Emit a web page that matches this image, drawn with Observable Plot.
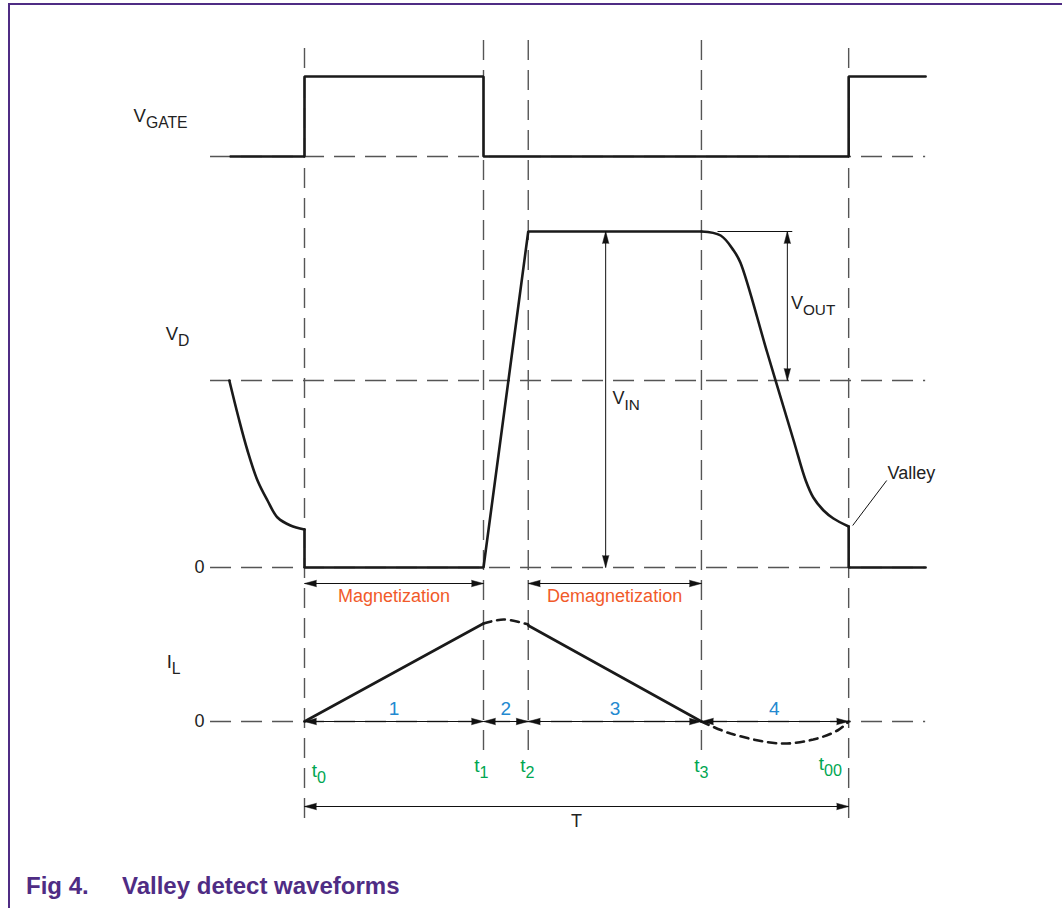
<!DOCTYPE html>
<html><head><meta charset="utf-8">
<script src="https://cdn.jsdelivr.net/npm/d3@7"></script>
<script src="https://cdn.jsdelivr.net/npm/@observablehq/plot@0.6"></script>
<style>
body{margin:0;background:#fff;font-family:"Liberation Sans",Arial,sans-serif;}
#frame{position:absolute;left:8px;top:3px;width:1060px;height:910px;border-left:2px solid #4f2c84;border-top:2px solid #4f2c84;box-sizing:border-box;}
#chart{position:absolute;left:0;top:0;}
.cap{position:absolute;top:872px;font-weight:bold;color:#4f2c84;font-size:24px;white-space:nowrap;}
</style></head><body>
<div id="frame"></div>
<div id="chart"></div>
<div class="cap" style="left:26px">Fig 4.</div>
<div class="cap" style="left:122px">Valley detect waveforms</div>
<script>
// ---- time instants (diagram time units) ----
const tickNames = ["t_0", "t_1", "t_2", "t_3", "t_00"];
const tickTimes = [0, 4, 5, 8.87, 12.16];
const tickBottoms = [-9.7, -2.9, -2.9, -2.9, -9.7];
const tickTop = 68.3;

// ---- reference levels (diagram level units) ----
const refLevels = [56.5, 34.1, 15.4, 0];   // gate low, Vout ref, Vd zero, IL zero
const refStart = -2.1, refEnd = 13.88;

// ---- V_GATE ----
const gateX = [-1.65, 0, 0, 4, 4, 12.16, 12.16, 13.88];
const gateY = [56.5, 56.5, 64.5, 64.5, 56.5, 56.5, 64.5, 64.5];

// ---- V_D ----
const vdDecayX = [-1.68, -1.475, -1.274, -1.05, -0.827, -0.603, -0.313, 0];
const vdDecayY = [34.1, 30.4, 27.1, 24.1, 22.1, 20.4, 19.6, 19.2];
const vdMainX = [0, 0, 4, 5, 8.87];
const vdMainY = [19.2, 15.4, 15.4, 49.0, 49.0];
const vdFallX = [8.87, 9.30, 9.59, 9.74, 10.34, 10.93, 11.20, 11.37, 11.60, 11.82, 12.16];
const vdFallY = [49.0, 48.6, 47.1, 45.9, 36.9, 28.1, 24.1, 22.4, 21.1, 20.3, 19.5];
const vdEndX = [12.16, 12.16, 13.88];
const vdEndY = [19.5, 15.4, 15.4];

// ---- I_L ----
const ilRiseX = [0, 4], ilRiseY = [0, 9.8];
const ilBridgeX = [4, 4.45, 5], ilBridgeY = [9.8, 10.2, 9.7];
const ilFallX = [5, 8.87], ilFallY = [9.6, 0];
const ilDipX = [8.87, 9.52, 10.64, 11.37, 11.91, 12.16];
const ilDipY = [0, -1.2, -2.2, -1.8, -0.9, 0];

// ---- dimension arrows ----
const hSpanX1 = [0, 5, 0, 4, 5, 8.87, 0];
const hSpanX2 = [4, 8.87, 4, 5, 8.87, 12.16, 12.16];
const hSpanY  = [13.8, 13.8, 0, 0, 0, 0, -8.5];
const vSpanX  = [6.73, 10.79];
const vSpanY1 = [49.0, 49.0];
const vSpanY2 = [15.4, 34.1];

// ---- texts ----
const axisLabels = ["V_GATE", "V_D", "I_L"];
const axisLabelX = [-3.82, -3.1, -3.08];
const axisLabelY = [60.5, 38.7, 5.9];
const zeroLabels = ["0", "0"];
const zeroLabelY = [15.4, 0];
const phaseLabels = ["Magnetization", "Demagnetization"];
const phaseX = [2.0, 6.93];
const phaseY = [12.5, 12.5];
const intervalLabels = ["1", "2", "3", "4"];
const intervalX = [2.0, 4.5, 6.94, 10.5];
const tickLabelX = [0.16, 3.95, 4.98, 8.87, 11.75];
const tickLabelY = [-4.9, -4.4, -4.4, -4.4, -4.2];
const tickLabelAnchor = ["start", "middle", "middle", "middle", "middle"];
const noteLabels = ["V_IN", "V_OUT", "Valley", "T"];
const noteX = [6.88, 10.87, 13.03, 6.08];
const noteY = [32.35, 41.8, 24.8, -10];
const noteAnchor = ["start", "start", "start", "middle"];

// thin auxiliary lines: Vout top reference, Valley leader
const auxX1 = [9.23, 12.25], auxY1 = [49.0, 19.6];
const auxX2 = [10.9, 13.01], auxY2 = [49.0, 24.1];

// ---- build tables ----
const pts = (xs, ys) => xs.map((x, i) => ({x, y: ys[i]}));
const refs = refLevels.map(y => ({y, x1: refStart, x2: refEnd}));
const vlines = tickTimes.map((x, i) => ({x, y1: tickBottoms[i], y2: tickTop}));
const hSpans = hSpanX1.map((x1, i) => ({x1, x2: hSpanX2[i], y: hSpanY[i]}));
const vSpans = vSpanX.map((x, i) => ({x, y1: vSpanY1[i], y2: vSpanY2[i]}));
const heads = [
  ...hSpans.flatMap(d => [{x: d.x1, y: d.y, r: -90}, {x: d.x2, y: d.y, r: 90}]),
  ...vSpans.flatMap(d => [{x: d.x, y: d.y1, r: 0}, {x: d.x, y: d.y2, r: 180}])
];
const aux = auxX1.map((x1, i) => ({x1, y1: auxY1[i], x2: auxX2[i], y2: auxY2[i]}));
const axisTxt = axisLabels.map((t, i) => ({t, x: axisLabelX[i], y: axisLabelY[i]}));
const zeroTxt = zeroLabels.map((t, i) => ({t, x: -2.235, y: zeroLabelY[i]}));
const phaseTxt = phaseLabels.map((t, i) => ({t, x: phaseX[i], y: phaseY[i]}));
const intTxt = intervalLabels.map((t, i) => ({t, x: intervalX[i], y: 1.25}));
const tickTxt = tickNames.map((t, i) => ({t, x: tickLabelX[i], y: tickLabelY[i], a: tickLabelAnchor[i]}));
const noteTxt = noteLabels.map((t, i) => ({t, x: noteX[i], y: noteY[i], a: noteAnchor[i]}));

const FONT = "Liberation Sans, Arial, sans-serif";
const wave = {stroke: "#1a1a1a", strokeWidth: 2.6, strokeLinejoin: "miter"};
const dash = {stroke: "#555", strokeWidth: 1.4, strokeDasharray: "21,10"};

const plot = Plot.plot({
  width: 1062, height: 860, margin: 0,
  x: {domain: [-6.7933, 16.9385], axis: null},
  y: {domain: [-13.9, 72.1], axis: null},
  style: {fontFamily: FONT, background: "transparent"},
  marks: [
    Plot.ruleY(refs, {y: "y", x1: "x1", x2: "x2", ...dash}),
    Plot.ruleX(vlines, {x: "x", y1: "y1", y2: "y2", ...dash, strokeDasharray: "20,10"}),
    Plot.line(pts(gateX, gateY), {x: "x", y: "y", ...wave}),
    Plot.line(pts(vdDecayX, vdDecayY), {x: "x", y: "y", curve: "catmull-rom", ...wave}),
    Plot.line(pts(vdMainX, vdMainY), {x: "x", y: "y", ...wave}),
    Plot.line(pts(vdFallX, vdFallY), {x: "x", y: "y", curve: "catmull-rom", ...wave}),
    Plot.line(pts(vdEndX, vdEndY), {x: "x", y: "y", ...wave}),
    Plot.line(pts(ilRiseX, ilRiseY), {x: "x", y: "y", ...wave}),
    Plot.line(pts(ilFallX, ilFallY), {x: "x", y: "y", ...wave}),
    Plot.line(pts(ilBridgeX, ilBridgeY), {x: "x", y: "y", curve: "catmull-rom", ...wave, strokeDasharray: "8,6"}),
    Plot.line(pts(ilDipX, ilDipY), {x: "x", y: "y", curve: "catmull-rom", ...wave, strokeDasharray: "8,6"}),
    Plot.link(hSpans, {x1: "x1", x2: "x2", y1: "y", y2: "y", stroke: "#111", strokeWidth: 1}),
    Plot.link(vSpans, {x1: "x", x2: "x", y1: "y1", y2: "y2", stroke: "#111", strokeWidth: 1}),
    Plot.link(aux, {x1: "x1", x2: "x2", y1: "y1", y2: "y2", stroke: "#111", strokeWidth: 1}),
    Plot.vector(heads, {x: "x", y: "y", rotate: "r", length: 12, r: 3.2, shape: "spike", anchor: "end", fill: "#111", stroke: "#111", strokeWidth: 0.5}),
    Plot.text(axisTxt, {x: "x", y: "y", text: "t", textAnchor: "start", fontSize: 18.5, fill: "#222"}),
    Plot.text(zeroTxt, {x: "x", y: "y", text: "t", textAnchor: "end", fontSize: 18, fill: "#222"}),
    Plot.text(phaseTxt, {x: "x", y: "y", text: "t", textAnchor: "middle", fontSize: 18, fill: "#f15a29"}),
    Plot.text(intTxt, {x: "x", y: "y", text: "t", textAnchor: "middle", fontSize: 19, fill: "#2389d0"}),
    Plot.text(tickTxt.filter(d => d.a === "start"), {x: "x", y: "y", text: "t", textAnchor: "start", fontSize: 19, fill: "#00a651"}),
    Plot.text(tickTxt.filter(d => d.a === "middle"), {x: "x", y: "y", text: "t", textAnchor: "middle", fontSize: 19, fill: "#00a651"}),
    Plot.text(noteTxt.filter(d => d.a === "start"), {x: "x", y: "y", text: "t", textAnchor: "start", fontSize: 18, fill: "#222"}),
    Plot.text(noteTxt.filter(d => d.a === "middle"), {x: "x", y: "y", text: "t", textAnchor: "middle", fontSize: 18, fill: "#222"})
  ]
});

// turn "X_sub" texts into main + subscript
d3.select(plot).selectAll("text").each(function() {
  const s = this.textContent;
  if (s.includes("_")) {
    const [a, b] = s.split("_");
    this.textContent = "";
    const sel = d3.select(this);
    sel.append("tspan").text(a);
    sel.append("tspan").attr("dy", "0.38em").attr("font-size", "0.85em").text(b);
  }
});

document.getElementById("chart").appendChild(plot);
</script>
</body></html>
